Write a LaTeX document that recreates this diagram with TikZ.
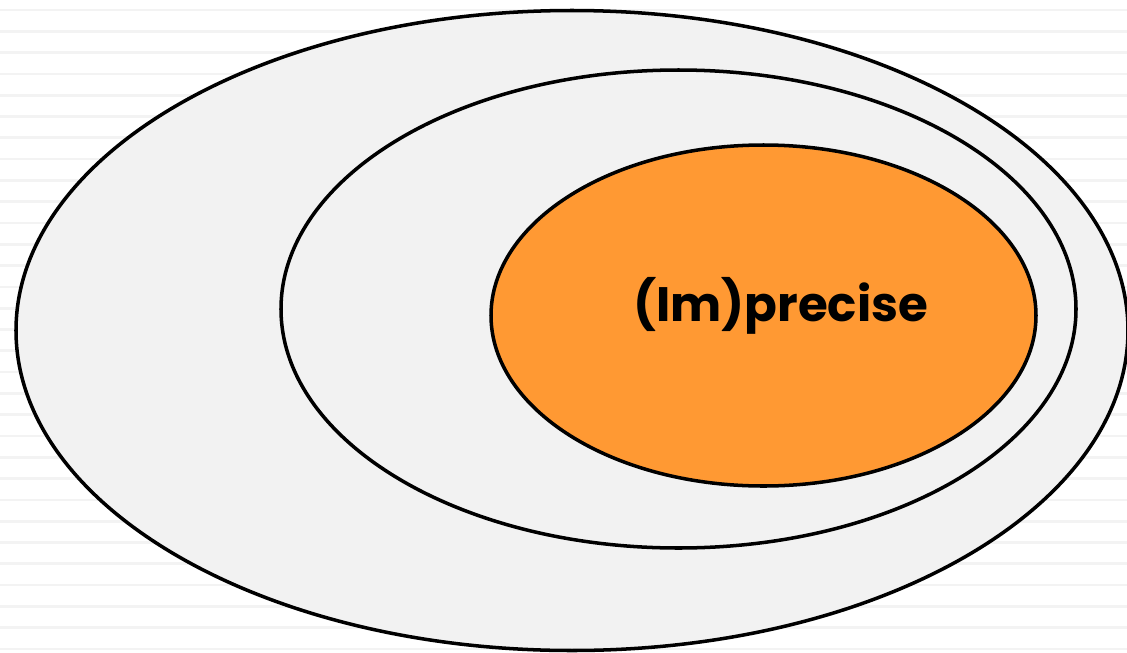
\documentclass[tikz,border=0pt]{standalone}
\usepackage{fontspec}
\setsansfont{Poppins}
\usepackage{tikz}
\definecolor{ringGray}{HTML}{F2F2F2}
\definecolor{stripeGray}{HTML}{F3F3F3}
\definecolor{coreOrange}{HTML}{FF9933}
\tikzset{
  ring/.style={draw=black,fill=ringGray,line width=2pt},
  core/.style={draw=black,fill=coreOrange,line width=2pt},
  stripe/.style={stripeGray,line width=1.5pt},
  label/.style={font=\sffamily\bfseries\fontsize{27.5}{32}\selectfont,text=black,inner sep=0pt}
}
\begin{document}
\begin{tikzpicture}[x=0.02cm,y=-0.02cm]
  \useasboundingbox (0,0) rectangle (1127,653);
  % background stripes
  \foreach \k in {0,...,30}{\draw[stripe] (0,10+21.3*\k) -- (1127,10+21.3*\k);}
  % nested sets
  \filldraw[ring] (572,330.5) ellipse [x radius=556,y radius=320];
  \filldraw[ring] (678.5,309) ellipse [x radius=397.5,y radius=239];
  \filldraw[core] (763.5,315.5) ellipse [x radius=272.5,y radius=170.5];
  \node[label] (imprecise) at (780.5,306) {(Im)precise};
\end{tikzpicture}
\end{document}
